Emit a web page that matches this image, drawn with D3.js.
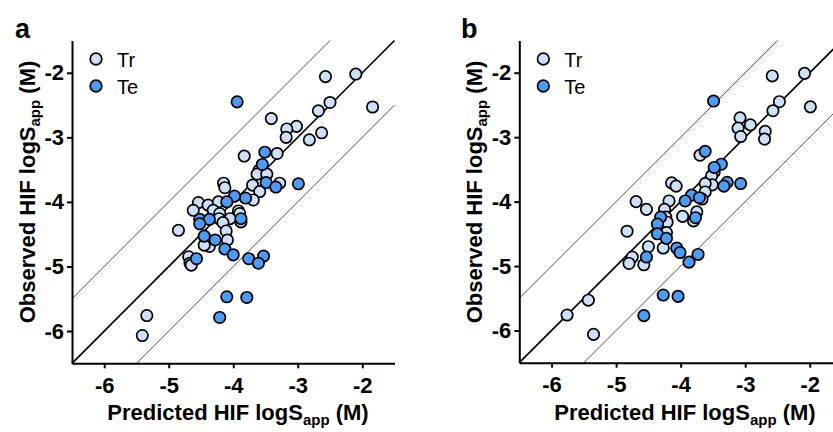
<!DOCTYPE html>
<html>
<head>
<meta charset="utf-8">
<script src="https://cdn.jsdelivr.net/npm/d3@7"></script>
<style>
    body { margin: 0; background: #fff; }
    svg { font-family: "Liberation Sans", Arial, Helvetica, sans-serif; }
</style>
</head>
<body>
<div id="chart"></div>
<script>

// ---- data (predicted, observed) ----
let trPredA = [-2.10, -2.57, -1.84, -2.50, -2.68, -2.63, -2.82, -3.02, -3.17, -3.18, -3.41, -3.32, -3.83, -3.60, -3.63,
    -3.48, -3.28, -3.70, -4.15, -4.13, -3.59, -3.69, -3.92, -3.90, -3.88, -4.54, -4.62, -4.39, -4.23, -4.31, -4.21,
    -4.05, -4.22, -4.16, -4.11, -4.09, -4.37, -4.45, -4.85, -4.69, -4.67, -4.65, -5.34, -5.41];
let trObsA = [-2.02, -2.06, -2.53, -2.46, -2.59, -2.93, -3.04, -2.83, -2.87, -3.00, -2.71, -3.25, -3.29, -3.51, -3.57,
    -3.57, -3.71, -3.74, -3.71, -3.78, -3.84, -3.97, -4.14, -4.18, -4.31, -4.01, -4.13, -4.05, -4.00, -4.13, -4.18,
    -4.26, -4.26, -4.32, -4.45, -4.59, -4.69, -4.67, -4.44, -4.85, -4.95, -4.98, -5.76, -6.07];
let tePredA = [-3.94, -3.51, -3.55, -3.49, -3.34, -2.99, -3.81, -3.98, -4.10, -3.88, -4.52, -4.37, -4.52, -4.45, -4.28,
    -4.13, -4.00, -4.57, -3.76, -3.53, -3.61, -4.10, -3.79, -4.21];
let teObsA = [-2.45, -3.23, -3.42, -3.70, -3.77, -3.72, -3.94, -3.91, -4.00, -4.26, -4.27, -4.27, -4.34, -4.53, -4.59,
    -4.73, -4.82, -4.88, -4.88, -4.84, -4.95, -5.47, -5.48, -5.79];

let trPredB = [-2.08, -2.58, -1.99, -2.47, -2.57, -3.08, -2.92, -3.11, -3.07, -2.69, -2.70, -3.70, -3.48, -3.52, -3.51,
    -3.62, -4.14, -4.07, -3.62, -3.67, -4.69, -4.53, -4.18, -4.25, -3.97, -4.23, -4.21, -3.75, -3.80, -4.83, -4.22,
    -4.50, -4.27, -4.75, -4.80, -4.57, -5.43, -5.76, -5.35];
let trObsB = [-2.01, -2.05, -2.53, -2.45, -2.59, -2.70, -2.81, -2.86, -2.99, -2.91, -3.03, -3.28, -3.54, -3.60, -3.74,
    -3.72, -3.71, -3.76, -3.85, -3.96, -4.00, -4.12, -3.99, -4.12, -4.23, -4.24, -4.32, -4.16, -4.30, -4.46, -4.48,
    -4.70, -4.72, -4.86, -4.96, -4.98, -5.53, -5.76, -6.06];
let tePredB = [-3.49, -3.62, -3.37, -3.48, -3.28, -3.33, -3.07, -3.83, -3.71, -3.93, -3.77, -4.31, -4.36, -4.36, -4.22,
    -4.06, -4.01, -4.53, -3.73, -3.87, -4.27, -4.04, -4.57];
let teObsB = [-2.44, -3.22, -3.42, -3.47, -3.70, -3.76, -3.72, -3.90, -3.94, -3.99, -4.25, -4.24, -4.35, -4.50, -4.57,
    -4.72, -4.79, -4.86, -4.82, -4.94, -5.45, -5.47, -5.77];

let tickValues = [-6, -5, -4, -3, -2];
let tickLabels = ["-6", "-5", "-4", "-3", "-2"];
let groupNames = ["Tr", "Te"];
let groupColors = ["#cde0f7", "#4d9bf3"];
let guideOffsets = [1, 0, -1];
let panelLetters = ["a", "b"];


class ScatterPanel {

    constructor(svg, opts) {
        this.svg = svg;
        this.opts = opts;
        this.initVis();
    }

    initVis() {
        let vis = this;
        let o = vis.opts;

        vis.x = d3.scaleLinear().domain([-6.5, -1.5]).range([o.left, o.right]);
        vis.y = d3.scaleLinear().domain([-6.5, -1.5]).range([o.bottom, o.top]);

        vis.g = vis.svg.append("g");

        // guide lines y = x + k
        guideOffsets.forEach(function (k) {
            let x0 = Math.max(-6.5, -6.5 - k);
            let x1 = Math.min(-1.5, -1.5 - k);
            vis.g.append("line")
                .attr("x1", vis.x(x0)).attr("y1", vis.y(x0 + k))
                .attr("x2", vis.x(x1)).attr("y2", vis.y(x1 + k))
                .attr("stroke", k === 0 ? "#000" : "#222")
                .attr("stroke-width", k === 0 ? 1.7 : 0.8);
        });

        // axes
        vis.xAxis = d3.axisBottom(vis.x)
            .tickValues(tickValues)
            .tickFormat((d, i) => tickLabels[i])
            .tickSizeInner(5).tickSizeOuter(0).tickPadding(9);
        vis.yAxis = d3.axisLeft(vis.y)
            .tickValues(tickValues)
            .tickFormat((d, i) => tickLabels[i])
            .tickSizeInner(5).tickSizeOuter(0).tickPadding(3);

        let xg = vis.g.append("g")
            .attr("transform", `translate(0, ${o.bottom})`)
            .call(vis.xAxis);
        let yg = vis.g.append("g")
            .attr("transform", `translate(${o.left}, 0)`)
            .call(vis.yAxis);

        [xg, yg].forEach(function (ax) {
            ax.select(".domain").attr("stroke", "#000").attr("stroke-width", 2);
            ax.selectAll(".tick line").attr("stroke", "#000").attr("stroke-width", 2);
            ax.selectAll(".tick text")
                .attr("fill", "#000")
                .attr("font-size", 22)
                .attr("font-weight", "bold")
                .attr("font-family", "Liberation Sans, Arial, sans-serif");
        });

        // axis titles
        vis.title(vis.g.append("text")
            .attr("x", o.xTitleX)
            .attr("y", 420)
            .attr("text-anchor", "middle"), "Predicted HIF logS");

        vis.title(vis.g.append("text")
            .attr("transform", `translate(${o.left - 37}, 192) rotate(-90)`)
            .attr("text-anchor", "middle"), "Observed HIF logS");

        // panel letter
        vis.g.append("text")
            .attr("x", o.letterX)
            .attr("y", 38)
            .attr("font-size", 27)
            .attr("font-weight", "bold")
            .text(o.letter);

        // legend
        groupNames.forEach(function (name, i) {
            vis.g.append("circle")
                .attr("cx", o.left + 24)
                .attr("cy", 59 + i * 27)
                .attr("r", 5.8)
                .attr("fill", groupColors[i])
                .attr("stroke", "#000")
                .attr("stroke-width", 1.7);
            vis.g.append("text")
                .attr("x", o.left + 45)
                .attr("y", 66.5 + i * 27)
                .attr("font-size", 20)
                .text(name);
        });

        vis.updateVis();
    }

    title(sel, main) {
        sel.attr("font-size", 22).attr("font-weight", "bold").attr("fill", "#000");
        sel.append("tspan").text(main);
        sel.append("tspan").attr("font-size", 15).attr("dy", 5).text("app");
        sel.append("tspan").attr("dy", -5).text(" (M)");
    }

    updateVis() {
        let vis = this;
        let o = vis.opts;

        o.groups.forEach(function (grp, gi) {
            let pts = grp.pred.map((p, i) => ({pred: p, obs: grp.obs[i]}));
            vis.g.append("g").selectAll("circle")
                .data(pts)
                .enter().append("circle")
                .attr("cx", d => vis.x(d.pred))
                .attr("cy", d => vis.y(d.obs))
                .attr("r", 5.7)
                .attr("fill", groupColors[gi])
                .attr("stroke", "#000")
                .attr("stroke-width", 1.7);
        });
    }
}


let svg = d3.select("#chart").append("svg")
    .attr("width", 833)
    .attr("height", 432);

new ScatterPanel(svg, {
    letter: panelLetters[0], letterX: 15,
    left: 72, right: 394.5, top: 40.5, bottom: 363.3, xTitleX: 238,
    groups: [{pred: trPredA, obs: trObsA}, {pred: tePredA, obs: teObsA}]
});

new ScatterPanel(svg, {
    letter: panelLetters[1], letterX: 461,
    left: 519.3, right: 842, top: 40.5, bottom: 362.7, xTitleX: 685,
    groups: [{pred: trPredB, obs: trObsB}, {pred: tePredB, obs: teObsB}]
});

</script>
</body>
</html>
